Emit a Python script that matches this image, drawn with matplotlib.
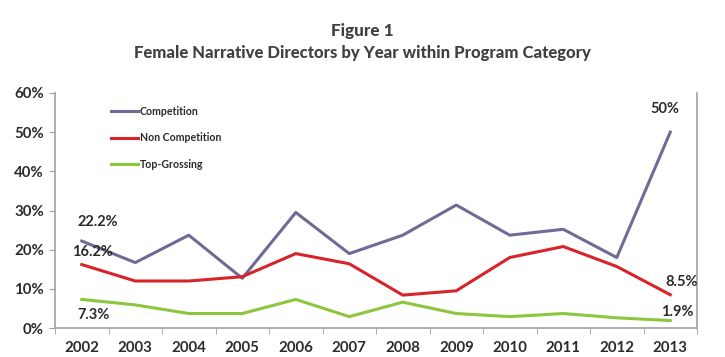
import matplotlib.pyplot as plt
from matplotlib.ticker import FixedLocator

years = ['2002', '2003', '2004', '2005', '2006', '2007',
         '2008', '2009', '2010', '2011', '2012', '2013']
competition = [22.2, 16.7, 23.7, 12.7, 29.5, 19.0, 23.7, 31.4, 23.7, 25.2, 18.0, 50.0]
non_competition = [16.2, 12.0, 12.0, 13.1, 19.0, 16.4, 8.4, 9.5, 18.0, 20.8, 15.7, 8.5]
top_grossing = [7.3, 5.9, 3.7, 3.7, 7.3, 2.9, 6.6, 3.7, 2.9, 3.7, 2.6, 1.9]
y_ticks = [0, 10, 20, 30, 40, 50, 60]

plt.rcParams['font.family'] = ['Lato', 'DejaVu Sans']
text_color = '#2b2b2b'

fig = plt.figure(figsize=(7.25, 3.57), dpi=100)
ax = fig.add_axes([0.0759, 0.0812, 0.8855, 0.6583])

x = range(len(years))
ax.plot(x, competition, color='#6f6b96', lw=2.2, label='Competition')
ax.plot(x, non_competition, color='#d8232a', lw=2.2, label='Non Competition')
ax.plot(x, top_grossing, color='#8cc63e', lw=2.2, label='Top-Grossing')

ax.set_xlim(-0.5, len(years) - 0.5)
ax.set_ylim(0, 60)

# year labels centred, tick marks between categories
ax.set_xticks(list(x))
ax.set_xticklabels(years, fontsize=10.8, fontweight='bold', color=text_color)
ax.xaxis.set_minor_locator(FixedLocator([i - 0.5 for i in range(len(years) + 1)]))
ax.tick_params(axis='x', which='major', length=0, pad=9)
ax.tick_params(axis='x', which='minor', length=4, color='#a0a0a0', direction='out')

ax.set_yticks(y_ticks)
ax.set_yticklabels([f'{v}%' for v in y_ticks], fontsize=10.8,
                   fontweight='bold', color=text_color)
ax.tick_params(axis='y', length=4, color='#a0a0a0', pad=4)

for side in ['left', 'right', 'bottom']:
    ax.spines[side].set_color('#a0a0a0')
    ax.spines[side].set_linewidth(1.2)
ax.spines['top'].set_visible(False)

# value labels at the ends
lab = dict(fontsize=10.5, fontweight='bold', color=text_color)
ax.annotate(f'{competition[0]}%', (0, competition[0]), xytext=(-3, 9),
            textcoords='offset points', ha='left', va='bottom', **lab)
ax.annotate(f'{non_competition[0]}%', (0, non_competition[0]), xytext=(-7, 4),
            textcoords='offset points', ha='left', va='bottom', **lab)
ax.annotate(f'{top_grossing[0]}%', (0, top_grossing[0]), xytext=(-3, -6),
            textcoords='offset points', ha='left', va='top', **lab)
ax.annotate('50%', (11, competition[-1]), xytext=(-4, 12),
            textcoords='offset points', ha='center', va='bottom', **lab)
ax.annotate(f'{non_competition[-1]}%', (11, non_competition[-1]), xytext=(8, 4),
            textcoords='offset points', ha='center', va='bottom', **lab)
ax.annotate(f'{top_grossing[-1]}%', (11, top_grossing[-1]), xytext=(5, 1),
            textcoords='offset points', ha='center', va='bottom', **lab)

leg = ax.legend(loc='upper left', bbox_to_anchor=(0.072, 0.985), frameon=False,
                handlelength=2.6, handletextpad=0.15, labelspacing=1.45,
                prop={'size': 7.6, 'weight': 'bold'})
for t in leg.get_texts():
    t.set_color(text_color)

fig.text(0.5, 0.912, 'Figure 1', ha='center', va='center',
         fontsize=12.3, fontweight='black', color='#404040')
fig.text(0.5, 0.852, 'Female Narrative Directors by Year within Program Category',
         ha='center', va='center', fontsize=12.0, fontweight='black', color='#404040')

fig.savefig('out.png', dpi=100)
